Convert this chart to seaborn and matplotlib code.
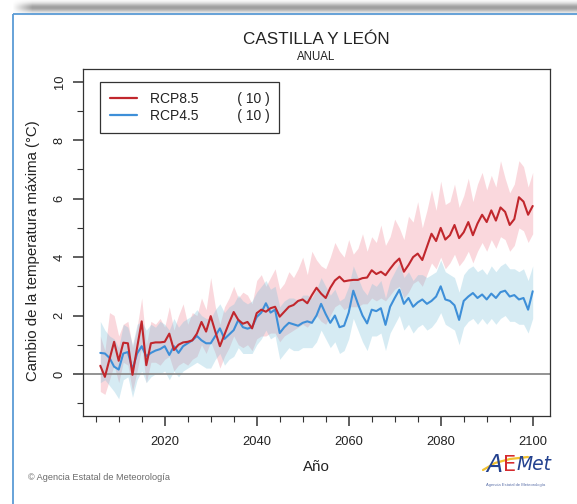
import numpy as np
import pandas as pd
import matplotlib
matplotlib.use("Agg")
import matplotlib.pyplot as plt
from matplotlib.lines import Line2D
import seaborn as sns

# ---- data -------------------------------------------------------------
years = list(range(2006, 2101))

rcp85_mean = [0.28, -0.1, 0.5, 1.1, 0.45, 1.07, 1.05, -0.03, 0.9, 1.8,
              0.3, 1.05, 1.08, 1.08, 1.1, 1.38, 0.82, 1.0, 1.08, 1.1,
              1.15, 1.38, 1.78, 1.45, 1.98, 1.45, 0.95, 1.35, 1.75, 2.12,
              1.85, 1.72, 1.78, 1.56, 2.08, 2.2, 2.13, 2.25, 2.3, 1.96,
              2.13, 2.3, 2.36, 2.5, 2.55, 2.42, 2.7, 2.95, 2.75, 2.6,
              2.95, 3.2, 3.33, 3.17, 3.2, 3.22, 3.22, 3.28, 3.3, 3.55,
              3.42, 3.5, 3.38, 3.6, 3.8, 3.95, 3.5, 3.73, 4.0, 4.12,
              3.9, 4.35, 4.8, 4.55, 5.0, 4.6, 4.75, 5.1, 4.65, 4.85,
              5.2, 4.75, 5.15, 5.45, 5.2, 5.6, 5.25, 5.7, 5.55, 5.1,
              5.3, 6.05, 5.9, 5.45, 5.75]
rcp85_high = [1.3, 0.8, 2.1, 2.0, 1.3, 1.7, 1.8, 0.9, 1.6, 2.6,
              1.0, 1.8, 1.7, 1.9, 1.6, 2.3, 1.5, 2.0, 2.4, 1.7,
              2.1, 2.0, 2.6, 2.2, 3.3, 2.3, 1.7, 2.3, 2.6, 3.0,
              2.6, 2.8, 2.7, 2.4, 3.2, 3.4, 3.0, 3.3, 3.6, 2.9,
              3.1, 3.5, 3.3, 3.6, 4.0, 3.4, 4.2, 3.9, 3.7, 3.6,
              4.0, 4.5, 4.2, 4.0, 4.6, 4.1, 4.3, 4.8, 4.2, 4.7,
              4.5, 5.1, 4.4, 4.7, 5.3, 5.0, 4.6, 5.4, 5.2, 5.9,
              5.0, 5.6, 6.3, 5.6, 6.6, 5.8, 5.9, 6.5, 5.7, 6.1,
              6.7, 5.9, 6.5, 6.9, 6.3, 6.8, 6.4, 7.3, 6.7, 6.2,
              6.5, 7.3, 7.1, 6.4, 6.9]
rcp85_low = [-0.6, -0.7, -0.2, 0.3, -0.3, 0.4, 0.3, -0.6, 0.1, 0.9,
             -0.3, 0.4, 0.4, 0.3, 0.5, 0.6, 0.1, 0.3, 0.4, 0.3,
             0.5, 0.6, 1.0, 0.7, 1.1, 0.7, 0.2, 0.6, 0.9, 1.3,
             1.0, 0.9, 1.0, 0.8, 1.2, 1.3, 1.3, 1.4, 1.4, 1.1,
             1.3, 1.4, 1.5, 1.6, 1.7, 1.6, 1.8, 2.0, 1.8, 1.7,
             2.0, 2.3, 2.4, 2.2, 2.3, 2.3, 2.3, 2.4, 2.4, 2.6,
             2.5, 2.6, 2.5, 2.7, 2.9, 3.0, 2.6, 2.8, 3.1, 3.2,
             3.0, 3.4, 3.8, 3.6, 4.0, 3.6, 3.8, 4.1, 3.7, 3.9,
             4.2, 3.8, 4.2, 4.5, 4.2, 4.6, 4.3, 4.7, 4.6, 4.2,
             4.4, 5.0, 4.9, 4.5, 4.8]

rcp45_mean = [0.72, 0.7, 0.55, 0.25, 0.15, 0.7, 0.75, 0.15, 0.7, 0.95,
              0.6, 0.72, 0.8, 0.85, 0.95, 0.65, 0.95, 0.72, 0.95, 1.05,
              1.15, 1.3, 1.15, 1.05, 1.05, 1.3, 1.56, 1.2, 1.35, 1.5,
              1.85, 1.6, 1.55, 1.6, 1.95, 2.1, 2.42, 2.1, 2.2, 1.4,
              1.6, 1.75, 1.7, 1.65, 1.75, 1.8, 1.75, 2.0, 2.4, 2.05,
              1.75, 2.0, 1.6, 1.65, 2.1, 2.85, 2.4, 2.0, 1.73, 2.2,
              2.15, 2.25, 1.68, 2.3, 2.6, 2.88, 2.4, 2.6, 2.3, 2.45,
              2.55, 2.4, 2.5, 2.65, 3.0, 2.55, 2.5, 2.35, 1.85, 2.5,
              2.65, 2.77, 2.6, 2.72, 2.55, 2.75, 2.6, 2.8, 2.85, 2.65,
              2.7, 2.55, 2.6, 2.2, 2.83]
rcp45_high = [1.8, 1.5, 1.3, 1.2, 0.9, 1.7, 1.6, 1.0, 1.7, 1.8,
              1.5, 1.7, 1.6, 1.8, 1.7, 1.5, 1.9, 1.6, 1.8, 1.9,
              2.0, 2.2, 2.0, 1.9, 1.9, 2.2, 2.4, 2.1, 2.3, 2.4,
              2.7, 2.5, 2.4, 2.5, 2.8, 3.0, 3.2, 2.9, 3.0, 2.3,
              2.5, 2.6, 2.6, 2.5, 2.7, 2.7, 2.6, 2.9, 3.3, 3.0,
              2.7, 2.9, 2.5, 2.6, 3.0, 3.7, 3.3, 2.9, 2.7, 3.1,
              3.0, 3.2, 2.6, 3.2, 3.5, 3.8, 3.3, 3.5, 3.2, 3.4,
              3.4, 3.3, 3.4, 3.5, 3.9, 3.5, 3.4, 3.3, 2.8, 3.4,
              3.6, 3.7, 3.5, 3.6, 3.4, 3.7, 3.5, 3.7, 3.8, 3.6,
              3.6, 3.5, 3.6, 3.2, 3.7]
rcp45_low = [-0.3, -0.2, -0.4, -0.6, -0.85, -0.2, -0.1, -0.8, -0.2, 0.1,
             -0.3, -0.1, 0.0, 0.0, 0.1, -0.2, 0.1, -0.1, 0.1, 0.2,
             0.3, 0.4, 0.3, 0.2, 0.2, 0.5, 0.7, 0.3, 0.5, 0.6,
             0.9, 0.7, 0.7, 0.7, 1.0, 1.2, 1.5, 1.2, 1.3, 0.5,
             0.7, 0.9, 0.8, 0.8, 0.9, 0.9, 0.9, 1.1, 1.5, 1.2,
             0.9, 1.1, 0.7, 0.8, 1.2, 1.9, 1.5, 1.1, 0.8, 1.3,
             1.3, 1.4, 0.8, 1.4, 1.7, 2.0, 1.5, 1.7, 1.4, 1.6,
             1.7, 1.5, 1.6, 1.8, 2.1, 1.7, 1.6, 1.5, 1.0, 1.6,
             1.8, 1.9, 1.7, 1.9, 1.7, 1.9, 1.7, 1.9, 2.0, 1.8,
             1.8, 1.7, 1.7, 1.4, 1.9]

scenarios = ["RCP8.5", "RCP4.5"]
model_counts = [10, 10]
x_major = [2020, 2040, 2060, 2080, 2100]
x_minor = list(range(2005, 2101, 5))
y_major = [0, 2, 4, 6, 8, 10]
y_minor = [-1, 1, 3, 5, 7, 9]

line_colors = {"RCP8.5": "#c1272d", "RCP4.5": "#3e8fd8"}
band_colors = {"RCP8.5": "#f08a98", "RCP4.5": "#78c0da"}

df = pd.DataFrame({
    "Año": years * 2,
    "valor": rcp85_mean + rcp45_mean,
    "escenario": ["RCP8.5"] * len(years) + ["RCP4.5"] * len(years),
})

# ---- style ------------------------------------------------------------
sns.set_style("white")
plt.rcParams["font.family"] = ["Liberation Sans", "DejaVu Sans"]
W, H = 577, 504
fig = plt.figure(figsize=(W / 100, H / 100), dpi=100)

# page decoration: top shadow and blue frame
bg = fig.add_axes([0, 0, 1, 1])
bg.set_xlim(0, W)
bg.set_ylim(H, 0)
bg.axis("off")
rows = np.arange(16)[:, None]
cols = np.arange(W)[None, :]
alpha = 0.38 * np.exp(-((rows - 7.0) / 4.5) ** 2) * np.clip((cols - 12) / 20.0, 0, 1)
shadow = np.zeros((16, W, 4))
shadow[..., 3] = alpha
bg.imshow(shadow, extent=(0, W, 16, 0), aspect="auto", interpolation="bilinear")
bg.plot([12.5, W], [13.5, 13.5], color="#5b9bd5", lw=1.3, solid_capstyle="butt")
bg.plot([12.5, 12.5], [13.5, H], color="#5b9bd5", lw=1.3, solid_capstyle="butt")

# ---- main panel -------------------------------------------------------
ax = fig.add_axes([83 / W, 1 - 416 / H, 467 / W, 347 / H])
ax.set_facecolor("white")

ax.fill_between(years, rcp85_low, rcp85_high, color=band_colors["RCP8.5"],
                alpha=0.33, lw=0, zorder=1)
ax.fill_between(years, rcp45_low, rcp45_high, color=band_colors["RCP4.5"],
                alpha=0.30, lw=0, zorder=1.1)
ax.axhline(0, color="#8a8a8a", lw=1.3, zorder=2)

sns.lineplot(data=df, x="Año", y="valor", hue="escenario",
             hue_order=["RCP4.5", "RCP8.5"], palette=line_colors,
             lw=1.5, legend=False, ax=ax, zorder=3)

ax.set_xlim(2002.24, 2103.76)
ax.set_ylim(-1.44, 10.44)
ax.set_xticks(x_major)
ax.set_xticks(x_minor, minor=True)
ax.set_yticks(y_major)
ax.set_yticks(y_minor, minor=True)
ax.set_xticklabels([str(v) for v in x_major])
ax.set_yticklabels([str(v) for v in y_major])
ax.tick_params(axis="both", which="major", direction="out", length=7.5,
               width=1.1, color="#333333", labelsize=9.3, labelcolor="#222222",
               bottom=True, left=True)
ax.tick_params(axis="both", which="minor", direction="out", length=4,
               width=0.8, color="#333333", bottom=True, left=True)
ax.tick_params(axis="x", which="major", pad=7)
ax.tick_params(axis="y", which="major", pad=5)
plt.setp(ax.get_yticklabels(), rotation=90, va="center", ha="right")

for side in ["left", "right", "top", "bottom"]:
    ax.spines[side].set_visible(True)
    ax.spines[side].set_color("#333333")
    ax.spines[side].set_linewidth(0.9)

ax.set_xlabel("Año", fontsize=10.8, color="#222222")
ax.xaxis.set_label_coords(0.5, -0.147)
ax.xaxis.label.set_va("center")
ax.set_ylabel("Cambio de la temperatura máxima (°C)", fontsize=10.8,
              color="#222222")
ax.yaxis.set_label_coords(-0.107, 0.478)
ax.yaxis.label.set_va("center")

handles = [Line2D([], [], color=line_colors[s], lw=1.6) for s in scenarios]
labels = [f"{s}          ( {n} )" for s, n in zip(scenarios, model_counts)]
leg = ax.legend(handles, labels, loc="upper left",
                bbox_to_anchor=(0.036, 0.963), fontsize=10, frameon=True,
                fancybox=False, framealpha=1, edgecolor="#333333",
                borderpad=0.7, handlelength=2.0, handletextpad=0.9,
                labelspacing=0.25, borderaxespad=0)
leg.get_frame().set_linewidth(0.9)
for t in leg.get_texts():
    t.set_color("#222222")

# ---- titles and credits ------------------------------------------------
fig.text(316.5 / W, 1 - 40 / H, "CASTILLA Y LEÓN", ha="center", va="center",
         fontsize=12.3, color="#222222")
fig.text(316.5 / W, 1 - 57 / H, "ANUAL", ha="center", va="center",
         fontsize=8.3, color="#222222")
fig.text(28 / W, 1 - 478 / H, "© Agencia Estatal de Meteorología",
         ha="left", va="center", fontsize=6.6, color="#6b6b6b")

# AEMet logo lettering, each piece placed right after the previous one
renderer = fig.canvas.get_renderer()
logo_y = 1 - 465 / H
x_px = 486
for txt, size, color, style in [("A", 17, "#24428f", "italic"),
                                ("E", 15, "#d52b2f", "normal"),
                                ("Met", 13.5, "#24428f", "italic")]:
    t = fig.text(x_px / W, logo_y, txt, ha="left", va="center", fontsize=size,
                 color=color, fontstyle=style, family="DejaVu Sans")
    x_px = t.get_window_extent(renderer).x1 + 0.5
bg.plot([483, 495, 510, 528], [470, 463, 459, 457], color="#f2c230",
        lw=1.6, solid_capstyle="round")
fig.text(516 / W, 1 - 485 / H, "Agencia Estatal de Meteorología",
         ha="center", va="center", fontsize=3, color="#5a6fa8")

fig.savefig("out.png", dpi=100)
